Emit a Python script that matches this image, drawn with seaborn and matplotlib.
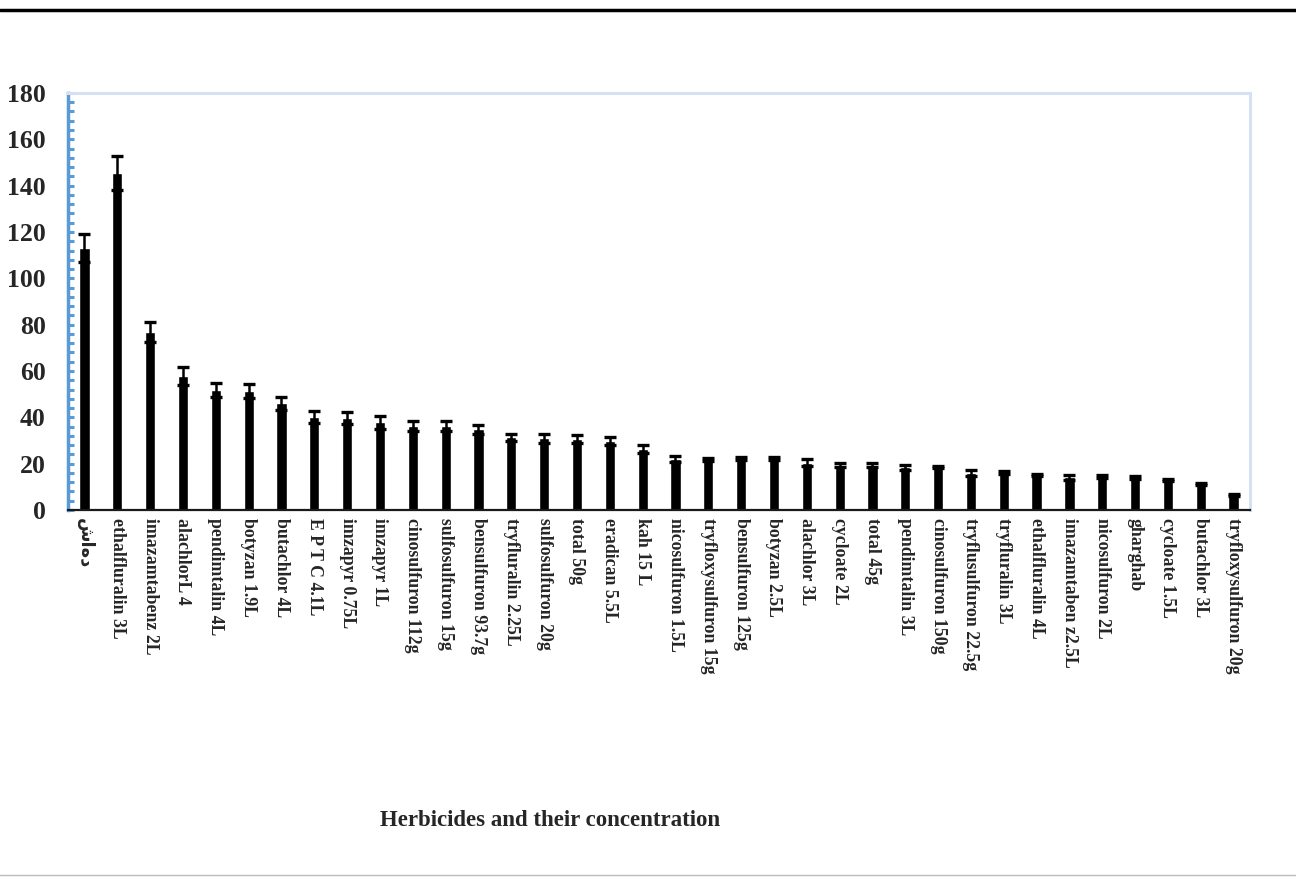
import numpy as np
import pandas as pd
import matplotlib
matplotlib.use("Agg")
import matplotlib.pyplot as plt
from matplotlib.lines import Line2D
from matplotlib.ticker import MultipleLocator
import seaborn as sns

categories = [
    "شاهد", "ethalfluralin 3L", "imazamtabenz 2L", "alachlorL 4", "pendimtalin 4L",
    "botyzan 1.9L", "butachlor 4L", "E P T C 4.1L", "imzapyr 0.75L", "imzapyr 1L",
    "cinosulfuron 112g", "sulfosulfuron 15g", "bensulfuron 93.7g", "tryfluralin 2.25L",
    "sulfosulfuron 20g", "total 50g", "eradican 5.5L", "kah 15 L", "nicosulfuron 1.5L",
    "tryfloxysulfuron 15g", "bensulfuron 125g", "botyzan 2.5L", "alachlor 3L",
    "cycloate 2L", "total 45g", "pendimtalin 3L", "cinosulfuron 150g",
    "tryflusulfuron 22.5g", "tryfluralin 3L", "ethalfluralin 4L", "imazamtaben z2.5L",
    "nicosulfuron 2L", "gharghab", "cycloate 1.5L", "butachlor 3L", "tryfloxysulfuron 20g",
]
values = [
    113.0, 145.5, 76.7, 57.8, 51.8, 51.4, 46.0, 40.3, 39.8, 37.8,
    36.4, 36.3, 34.8, 31.4, 30.9, 30.5, 29.8, 26.3, 22.2, 21.8,
    22.2, 22.2, 20.4, 19.4, 19.4, 18.4, 18.5, 15.8, 16.2, 15.1,
    14.1, 14.5, 14.0, 12.9, 11.2, 6.3,
]
errors = [
    6.0, 7.5, 4.3, 3.7, 3.2, 3.0, 2.9, 2.6, 2.6, 2.8,
    2.2, 2.3, 1.9, 1.5, 2.0, 1.7, 1.9, 1.6, 1.3, 0.8,
    0.5, 0.5, 1.4, 1.0, 1.0, 1.1, 0.5, 1.3, 0.5, 0.5,
    1.0, 0.5, 0.5, 0.4, 0.4, 0.4,
]
yticks = [0, 20, 40, 60, 80, 100, 120, 140, 160, 180]
xlabel_text = "Herbicides and their concentration"

df = pd.DataFrame({"herbicide": categories, "value": values, "err": errors})

sns.set_style("white")
plt.rcParams["font.family"] = ["Liberation Serif", "DejaVu Sans"]
plt.rcParams["font.weight"] = "bold"

fig = plt.figure(figsize=(12.96, 8.77), dpi=100)
ax = fig.add_axes([0.0525, 0.4185, 0.912, 0.4755])

sns.barplot(data=df, x="herbicide", y="value", color="black", width=0.31,
            saturation=1, ax=ax, errorbar=None)
xpos = np.arange(len(categories))
ax.errorbar(xpos, df["value"], yerr=df["err"], fmt="none", ecolor="black",
            elinewidth=1.8, capsize=4.5, capthick=2.4, zorder=3)

ax.set_ylim(0, 180)
ax.set_xlim(-0.5, len(categories) - 0.5)
ax.set_yticks(yticks)
ax.set_yticklabels([str(t) for t in yticks], fontsize=18.5, fontweight="bold",
                   family=["Liberation Serif", "DejaVu Sans"])
ax.yaxis.set_minor_locator(MultipleLocator(4))
ax.tick_params(axis="y", which="both", direction="in", color="#5B9BD5",
               length=4, width=2.2, pad=16, left=True)
ax.tick_params(axis="x", length=0, pad=6)
ax.set_xticks(xpos)
ax.set_xticklabels(categories, rotation=270, fontsize=12.8, fontweight="bold",
                   ha="center", va="top",
                   family=["Liberation Serif", "DejaVu Sans"])
ax.set_xlabel("")
ax.set_ylabel("")

for side in ["top", "right"]:
    ax.spines[side].set_visible(True)
    ax.spines[side].set_color("#D6E0F2")
    ax.spines[side].set_linewidth(2.2)
ax.spines["left"].set_color("#5B9BD5")
ax.spines["left"].set_linewidth(2.5)
ax.spines["bottom"].set_color("#1a1a1a")
ax.spines["bottom"].set_linewidth(1.6)

fig.text(550 / 1296, 1 - 820 / 877, xlabel_text, ha="center", va="center",
         fontsize=16.5, fontweight="bold", family=["Liberation Serif", "DejaVu Sans"])

fig.add_artist(Line2D([0, 1], [1 - 10 / 877, 1 - 10 / 877], color="black",
                      linewidth=2.5, transform=fig.transFigure))
fig.add_artist(Line2D([0, 1], [1 - 875 / 877, 1 - 875 / 877], color="#BBBBBB",
                      linewidth=1.0, transform=fig.transFigure))

fig.savefig("out.png", dpi=100, facecolor="white")
